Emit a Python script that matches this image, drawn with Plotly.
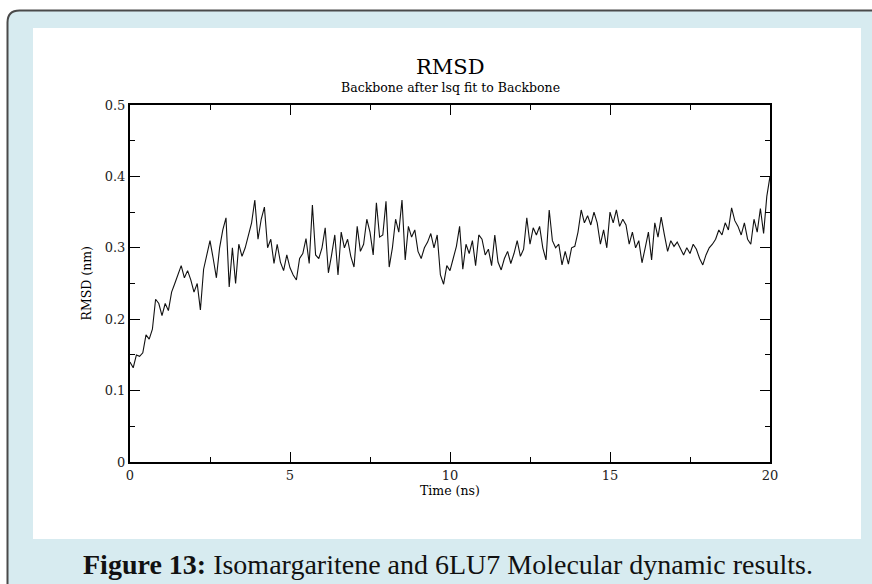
import plotly.graph_objects as go

rmsd_nm = [
    0.140, 0.132, 0.150, 0.148, 0.153, 0.178, 0.172, 0.186, 0.228, 0.222,
    0.205, 0.222, 0.212, 0.238, 0.250, 0.262, 0.275, 0.258, 0.268, 0.255,
    0.238, 0.250, 0.213, 0.270, 0.292, 0.310, 0.285, 0.258, 0.300, 0.325,
    0.342, 0.245, 0.300, 0.250, 0.305, 0.288, 0.300, 0.318, 0.335, 0.367,
    0.312, 0.340, 0.357, 0.300, 0.312, 0.278, 0.305, 0.280, 0.268, 0.290,
    0.272, 0.262, 0.255, 0.285, 0.292, 0.313, 0.278, 0.360, 0.290, 0.285,
    0.300, 0.328, 0.265, 0.290, 0.318, 0.262, 0.322, 0.300, 0.312, 0.288,
    0.273, 0.330, 0.295, 0.305, 0.340, 0.322, 0.290, 0.363, 0.315, 0.318,
    0.365, 0.273, 0.300, 0.340, 0.322, 0.367, 0.283, 0.330, 0.315, 0.325,
    0.295, 0.285, 0.300, 0.308, 0.320, 0.300, 0.318, 0.262, 0.249, 0.275,
    0.268, 0.285, 0.302, 0.330, 0.270, 0.305, 0.292, 0.310, 0.275, 0.318,
    0.312, 0.290, 0.298, 0.275, 0.318, 0.280, 0.269, 0.285, 0.295, 0.278,
    0.292, 0.310, 0.288, 0.298, 0.342, 0.305, 0.328, 0.318, 0.330, 0.300,
    0.283, 0.353, 0.310, 0.300, 0.305, 0.276, 0.295, 0.277, 0.300, 0.302,
    0.322, 0.353, 0.335, 0.345, 0.332, 0.350, 0.335, 0.305, 0.325, 0.300,
    0.350, 0.335, 0.353, 0.330, 0.340, 0.332, 0.305, 0.322, 0.300, 0.310,
    0.279, 0.300, 0.322, 0.283, 0.335, 0.315, 0.343, 0.318, 0.295, 0.310,
    0.302, 0.308, 0.298, 0.290, 0.300, 0.292, 0.305, 0.298, 0.285, 0.276,
    0.290, 0.300, 0.305, 0.312, 0.325, 0.318, 0.335, 0.325, 0.356, 0.338,
    0.330, 0.318, 0.335, 0.312, 0.305, 0.340, 0.322, 0.355, 0.320, 0.372,
    0.400,
]
time_step_ns = 0.1
time_ns = [round(i * time_step_ns, 1) for i in range(len(rmsd_nm))]

x_ticks = [0, 5, 10, 15, 20]
y_ticks = [0, 0.1, 0.2, 0.3, 0.4, 0.5]
y_tick_text = ["0", "0.1", "0.2", "0.3", "0.4", "0.5"]

title_text = "RMSD"
subtitle_text = "Backbone after lsq fit to Backbone"
x_title = "Time (ns)"
y_title = "RMSD (nm)"
caption_text = "<b>Figure 13:</b> Isomargaritene and 6LU7 Molecular dynamic results."

# ---- layout geometry (pixels) ----
FW, FH = 872, 584
L, R, T, B = 130, 102, 105, 122
PW = FW - L - R
PH = FH - T - B


def px(xp):
    return (xp - L) / PW


def py(yp):
    return (FH - B - yp) / PH


SERIF = "DejaVu Serif"

fig = go.Figure()
fig.add_trace(go.Scatter(
    x=time_ns, y=rmsd_nm, mode="lines",
    line=dict(color="#111111", width=1.1),
    showlegend=False, hoverinfo="skip",
))

shapes = []
# outer light-blue frame with rounded top-left corner
x0, y0 = px(7.5), py(10.5)
rx, ry = 12 / PW, 12 / PH
shapes.append(dict(
    type="path", xref="paper", yref="paper", layer="below",
    path=(f"M {x0},{py(600)} L {x0},{y0 - ry} Q {x0},{y0} {x0 + rx},{y0} "
          f"L {px(900)},{y0} L {px(900)},{py(600)} Z"),
    fillcolor="#d7ebf0", line=dict(color="#4a4a4a", width=2),
))
# inner white panel
shapes.append(dict(
    type="rect", xref="paper", yref="paper", layer="below",
    x0=px(33), x1=px(861), y0=py(539), y1=py(28),
    fillcolor="white", line=dict(width=0),
))

annotations = [
    dict(text=title_text, x=0.5, y=py(67), xref="paper", yref="paper",
         showarrow=False, xanchor="center", yanchor="middle",
         font=dict(family=SERIF, size=21, color="black")),
    dict(text=subtitle_text, x=0.5, y=py(88), xref="paper", yref="paper",
         showarrow=False, xanchor="center", yanchor="middle",
         font=dict(family=SERIF, size=12.5, color="black")),
    dict(text=x_title, x=0.5, y=py(490), xref="paper", yref="paper",
         showarrow=False, xanchor="center", yanchor="middle",
         font=dict(family=SERIF, size=12.5, color="black")),
    dict(text=y_title, x=px(86), y=0.5, xref="paper", yref="paper",
         showarrow=False, xanchor="center", yanchor="middle", textangle=-90,
         font=dict(family=SERIF, size=12.5, color="black")),
    dict(text=caption_text, x=px(447.5), y=py(564), xref="paper", yref="paper",
         showarrow=False, xanchor="center", yanchor="middle",
         font=dict(family="Liberation Serif", size=28, color="#111111")),
]

fig.update_layout(
    width=FW, height=FH,
    margin=dict(l=L, r=R, t=T, b=B, pad=0),
    paper_bgcolor="white", plot_bgcolor="white",
    shapes=shapes, annotations=annotations,
    showlegend=False,
)

axis_common = dict(
    showgrid=False, zeroline=False,
    showline=True, linecolor="black", linewidth=2, mirror="ticks",
    ticks="inside", ticklen=10, tickwidth=1, tickcolor="black",
    tickfont=dict(family=SERIF, size=13, color="#222222"),
)

fig.update_xaxes(
    range=[0, 20], tickvals=x_ticks, ticktext=[str(v) for v in x_ticks],
    minor=dict(ticks="inside", ticklen=5, tickwidth=1, tickcolor="black", dtick=2.5, showgrid=False),
    **axis_common,
)
fig.update_yaxes(
    range=[0, 0.5], tickvals=y_ticks, ticktext=y_tick_text,
    minor=dict(ticks="inside", ticklen=5, tickwidth=1, tickcolor="black", dtick=0.05, showgrid=False),
    **axis_common,
)

fig.write_html("out.html")
